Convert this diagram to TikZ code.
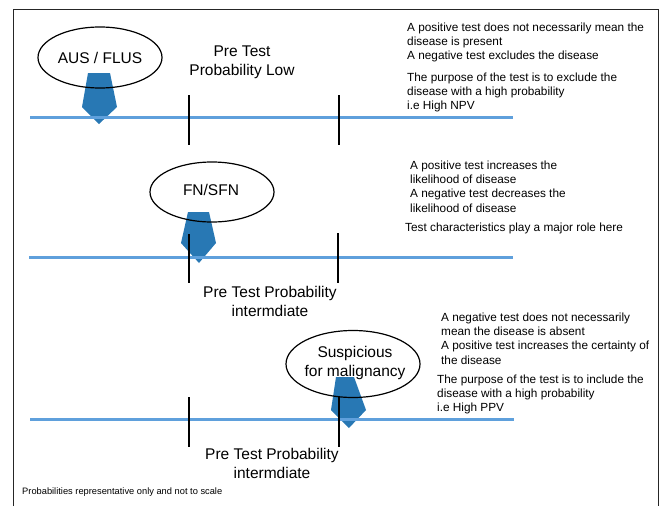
\documentclass[tikz,border=0pt]{standalone}
\usepackage{fontspec}
\setmainfont{Liberation Sans}
\usetikzlibrary{shapes.geometric}
\definecolor{lineblue}{RGB}{95,160,220}
\definecolor{pentblue}{RGB}{40,120,180}
\begin{document}
\begin{tikzpicture}[x=1pt,y=-1pt,
  small/.style={font=\fontsize{11.8}{14.3}\selectfont, align=left, inner sep=0pt, anchor=north west},
  big/.style={font=\fontsize{15.5}{19}\selectfont, align=center, inner sep=0pt},
  oval/.style={draw, ellipse, line width=1.2pt, inner sep=0pt},
  scaleline/.style={draw=lineblue, line width=3pt},
  tickline/.style={draw, line width=1.7pt},
  marker/.style={fill=pentblue, draw=none}]
\useasboundingbox (0,0) rectangle (661,506);
% frame
\draw[line width=1pt, black!85] (13,506) -- (13,9) -- (658,9) -- (658,506);
% markers
\fill[marker] (88,73) -- (110,73) -- (117,107) -- (99,124) -- (82,107) -- cycle;
\fill[marker] (188,212) -- (209,212) -- (216,243) -- (199,263) -- (181,243) -- cycle;
\fill[marker] (336,377) -- (354,377) -- (366,410) -- (349,428) -- (331,410) -- cycle;
% ovals
\node[oval, minimum width=124pt, minimum height=61pt] (e1) at (100,57.5) {};
\node[oval, minimum width=124pt, minimum height=60pt] (e2) at (212,192) {};
\node[oval, minimum width=134pt, minimum height=67pt] (e3) at (353,364) {};
\node[big] (t1) at (e1.center) {AUS / FLUS};
\node[big] (t2) at (211,190) {FN/SFN};
\node[big] (t3) at (355,363) {Suspicious\\for malignancy};
% scale lines
\coordinate (a1) at (30,117); \coordinate (b1) at (513,117);
\coordinate (a2) at (29,257); \coordinate (b2) at (513,257);
\coordinate (a3) at (30,419); \coordinate (b3) at (514,419);
\draw[scaleline] (a1) -- (b1);
\draw[scaleline] (a2) -- (b2);
\draw[scaleline] (a3) -- (b3);
% ticks
\coordinate (p1) at (189,95); \coordinate (q1) at (189,145);
\coordinate (r1) at (339,95); \coordinate (s1) at (339,145);
\coordinate (p2) at (189,234); \coordinate (q2) at (189,283);
\coordinate (r2) at (338,233); \coordinate (s2) at (338,283);
\coordinate (p3) at (189,397); \coordinate (q3) at (189,447);
\coordinate (r3) at (339,396); \coordinate (s3) at (339,447);
\draw[tickline] (p1) -- (q1);
\draw[tickline] (r1) -- (s1);
\draw[tickline] (p2) -- (q2);
\draw[tickline] (r2) -- (s2);
\draw[tickline] (p3) -- (q3);
\draw[tickline] (r3) -- (s3);
% labels
\node[big] (l1) at (242,62) {Pre Test\\Probability Low};
\node[big] (l2) at (270,301) {Pre Test Probability\\intermdiate};
\node[big] (l3) at (272,463) {Pre Test Probability\\intermdiate};
% notes
\node[small] (n1a) at (407,22.5) {A positive test does not necessarily mean the\\disease is present\\A negative test excludes the disease};
\node[small] (n1b) at (407,72.5) {The purpose of the test is to exclude the\\disease with a high probability\\i.e High NPV};
\node[small] (n2a) at (410,160.5) {A positive test increases the\\likelihood of disease\\A negative test decreases the\\likelihood of disease};
\node[small] (n2b) at (405,222.5) {Test characteristics play a major role here};
\node[small] (n3a) at (441,312.5) {A negative test does not necessarily\\mean the disease is absent\\A positive test increases the certainty of\\the disease};
\node[small] (n3b) at (437,374.5) {The purpose of the test is to include the\\disease with a high probability\\i.e High PPV};
\node[font=\fontsize{9.3}{11}\selectfont, inner sep=0pt, anchor=west] (foot) at (22,492) {Probabilities representative only and not to scale};
\end{tikzpicture}
\end{document}
